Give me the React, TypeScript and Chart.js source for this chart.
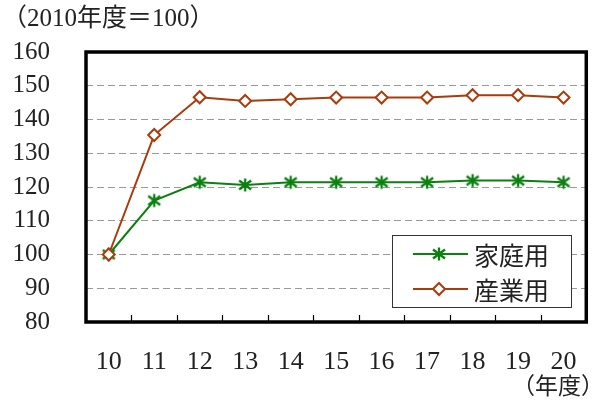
import React, { useEffect, useRef } from "react";
import { Chart, registerables } from "chart.js";

Chart.register(...registerables);

const categories = ["10", "11", "12", "13", "14", "15", "16", "17", "18", "19", "20"];
const householdValues = [100, 116, 121.4, 120.6, 121.4, 121.4, 121.4, 121.4, 121.9, 121.9, 121.4];
const industrialValues = [100, 135.4, 146.6, 145.5, 146.0, 146.5, 146.5, 146.5, 147.2, 147.2, 146.5];
const householdLabel = "家庭用";
const industrialLabel = "産業用";
const yTitle = "（2010年度＝100）";
const xTitle = "（年度）";
const yMin = 80;
const yMax = 160;
const yStep = 10;

const GREEN = "#0a800f";
const BROWN = "#a83c0c";
const SERIF = '"Liberation Serif", "DejaVu Serif", "Noto Sans CJK JP", serif';
const CJK = '"Noto Sans CJK JP", "Liberation Serif", serif';

function makeStar(): HTMLCanvasElement {
  const c = document.createElement("canvas");
  c.width = 16;
  c.height = 16;
  const g = c.getContext("2d")!;
  g.strokeStyle = GREEN;
  g.lineWidth = 2.3;
  g.beginPath();
  g.moveTo(8, 1.5);
  g.lineTo(8, 14.5);
  g.moveTo(2, 3.5);
  g.lineTo(14, 12.5);
  g.moveTo(14, 3.5);
  g.lineTo(2, 12.5);
  g.stroke();
  return c;
}

export default function App() {
  const ref = useRef<HTMLCanvasElement>(null);
  useEffect(() => {
    document.body.style.margin = "0";
    const star = makeStar();
    const extras = {
      id: "extras",
      afterDraw(chart: any) {
        const ctx = chart.ctx;
        const a = chart.chartArea;
        const xs = chart.scales.x;
        ctx.save();
        ctx.strokeStyle = "#000";
        ctx.lineWidth = 1.2;
        for (let i = 0; i < categories.length - 1; i++) {
          const px = Math.round((xs.getPixelForValue(i) + xs.getPixelForValue(i + 1)) / 2) + 0.5;
          ctx.beginPath();
          ctx.moveTo(px, a.bottom);
          ctx.lineTo(px, a.bottom - 7);
          ctx.stroke();
        }
        ctx.lineWidth = 3.5;
        ctx.strokeRect(a.left, a.top, a.right - a.left, a.bottom - a.top);
        ctx.fillStyle = "#222";
        ctx.font = "25px " + SERIF;
        ctx.textBaseline = "middle";
        ctx.textAlign = "left";
        ctx.fillText(yTitle, 2, 19);
        ctx.font = "23px " + SERIF;
        ctx.textAlign = "right";
        ctx.fillText(xTitle, 604, 388);
        const lx = 392, ly = 235, lw = 179, lh = 72;
        ctx.fillStyle = "#fff";
        ctx.fillRect(lx, ly, lw, lh);
        ctx.strokeStyle = "#333";
        ctx.lineWidth = 1;
        ctx.strokeRect(lx + 0.5, ly + 0.5, lw, lh);
        const rows = [
          { label: householdLabel, color: GREEN, y: 254, kind: "star" },
          { label: industrialLabel, color: BROWN, y: 289, kind: "diamond" },
        ];
        for (const r of rows) {
          ctx.strokeStyle = r.color;
          ctx.lineWidth = 2;
          ctx.beginPath();
          ctx.moveTo(413, r.y);
          ctx.lineTo(468, r.y);
          ctx.stroke();
          if (r.kind === "star") {
            ctx.drawImage(star, 439 - 8, r.y - 8);
          } else {
            ctx.fillStyle = "#fff";
            ctx.beginPath();
            ctx.moveTo(439 - 6, r.y);
            ctx.lineTo(439, r.y - 6);
            ctx.lineTo(439 + 6, r.y);
            ctx.lineTo(439, r.y + 6);
            ctx.closePath();
            ctx.fill();
            ctx.stroke();
          }
          ctx.fillStyle = "#222";
          ctx.font = "25px " + CJK;
          ctx.textAlign = "left";
          ctx.textBaseline = "middle";
          ctx.fillText(r.label, 474, r.y + 1);
        }
        ctx.restore();
      },
    };
    const chart = new Chart(ref.current!, {
      type: "line",
      data: {
        labels: categories,
        datasets: [
          {
            label: householdLabel,
            data: householdValues,
            borderColor: GREEN,
            borderWidth: 2,
            pointStyle: star as any,
            pointRadius: 8,
            order: 1,
          },
          {
            label: industrialLabel,
            data: industrialValues,
            borderColor: BROWN,
            backgroundColor: "#fff",
            borderWidth: 2,
            pointStyle: "rectRot",
            pointRadius: 6,
            pointBorderWidth: 2,
            pointBackgroundColor: "#fff",
            pointBorderColor: BROWN,
            order: 0,
          },
        ],
      },
      options: {
        responsive: false,
        animation: false,
        layout: { padding: { left: 0, right: 4, top: 52, bottom: 0 } },
        plugins: { legend: { display: false }, tooltip: { enabled: false }, title: { display: false } },
        scales: {
          x: {
            type: "category",
            offset: true,
            grid: { display: false, drawTicks: false },
            border: { display: false },
            ticks: { color: "#222", font: { family: SERIF, size: 26 }, padding: 25, maxRotation: 0, autoSkip: false },
            afterFit(s: any) {
              s.height = 79;
            },
          },
          y: {
            min: yMin,
            max: yMax,
            grid: { color: "#9a9a9a", lineWidth: 1, drawTicks: false },
            border: { display: false, dash: [7, 4] },
            ticks: { stepSize: yStep, color: "#222", font: { family: SERIF, size: 25 }, padding: 36, autoSkip: false },
            afterFit(s: any) {
              s.width = 86;
            },
          },
        },
      },
      plugins: [extras],
    });
    return () => chart.destroy();
  }, []);
  return (
    <div style={{ position: "absolute", left: 0, top: 0, width: 602, height: 401 }}>
      <canvas ref={ref} width={602} height={401} />
    </div>
  );
}
